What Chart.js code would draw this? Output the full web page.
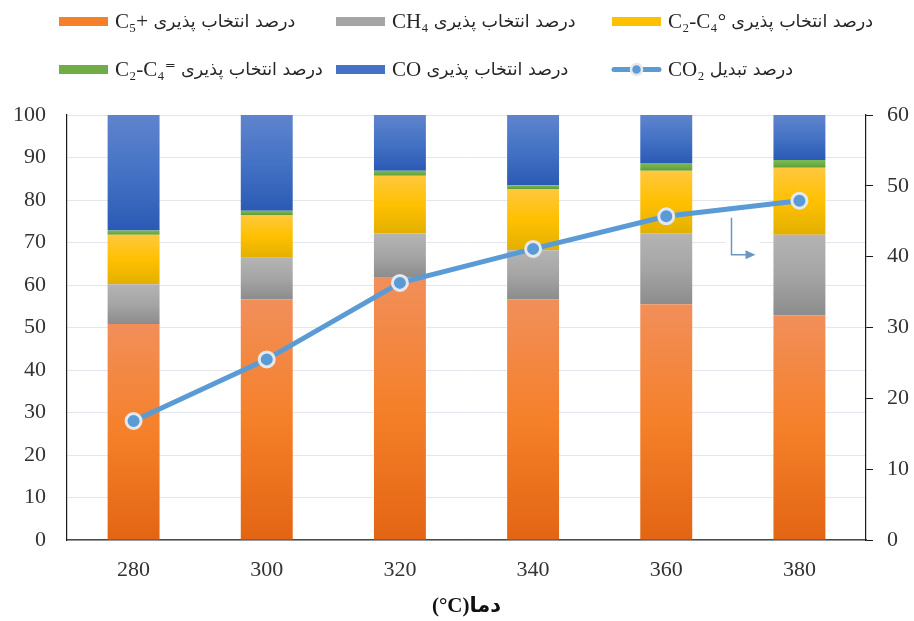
<!DOCTYPE html>
<html>
<head>
<meta charset="utf-8">
<script src="https://cdn.jsdelivr.net/npm/chart.js@4.4.1/dist/chart.umd.min.js"></script>
<style>
  html, body { margin: 0; padding: 0; background: #ffffff; }
  #wrap { width: 914px; height: 621px; }
</style>
</head>
<body>
<div id="wrap"><canvas id="chart" width="914" height="621"></canvas></div>
<script>
// Reaction temperature (°C)
const temperatures = ['280', '300', '320', '340', '360', '380'];

// Product selectivity (%), stacked to 100
const selC5plus       = [50.8, 56.6, 61.7, 56.6, 55.5, 52.9];
const selCH4          = [9.4, 9.8, 10.4, 11.6, 16.7, 18.9];
const selC2C4paraffin = [11.6, 10.1, 13.6, 14.4, 14.7, 15.8];
const selC2C4olefin   = [1.0, 1.0, 1.2, 0.9, 1.8, 1.8];
const selCO           = [27.2, 22.5, 13.1, 16.5, 11.3, 10.6];

// CO2 conversion (%), right axis
const convCO2 = [16.8, 25.5, 36.3, 41.1, 45.7, 47.9];

// Axis ranges
const leftAxisMax = 100, leftAxisStep = 10;
const rightAxisMax = 60, rightAxisStep = 10;

// Series labels
const labelC5plus   = 'C₅+ درصد انتخاب پذیری';
const labelCH4      = 'CH₄ درصد انتخاب پذیری';
const labelParaffin = 'C₂-C₄° درصد انتخاب پذیری';
const labelOlefin   = 'C₂-C₄⁼ درصد انتخاب پذیری';
const labelCO       = 'CO درصد انتخاب پذیری';
const labelCO2      = 'CO₂ درصد تبدیل';
const xAxisTitle    = '(°C)دما';

const barSeries = [selC5plus, selCH4, selC2C4paraffin, selC2C4olefin, selCO];

const FONT = '"Liberation Serif", "DejaVu Sans", serif';
const FA_FONT = '"DejaVu Sans", sans-serif';

// light -> base -> shade, top to bottom of each segment
const palette = {
  orange: ['#f18f5a', '#f5802a', '#e36513'],
  gray:   ['#b4b4b4', '#a5a5a5', '#8c8c8c'],
  yellow: ['#ffc83e', '#ffc000', '#e2b000'],
  green:  ['#7db858', '#70ad47', '#5e9c37'],
  blue:   ['#5f84cd', '#4472c4', '#2b5ab5']
};
const lineColor = '#5b9bd5';

function segmentFill(stops) {
  return (ctx) => {
    const chart = ctx.chart;
    const ys = chart.scales && chart.scales.y;
    if (ctx.type !== 'data' || !ys) return stops[1];
    const d = ctx.datasetIndex, i = ctx.dataIndex;
    let start = 0;
    for (let k = 0; k < d; k++) start += barSeries[k][i];
    const end = start + barSeries[d][i];
    const top = ys.getPixelForValue(end);
    const bottom = ys.getPixelForValue(start);
    if (!isFinite(top) || !isFinite(bottom) || top === bottom) return stops[1];
    const g = chart.ctx.createLinearGradient(0, top, 0, bottom);
    g.addColorStop(0, stops[0]);
    g.addColorStop(0.5, stops[1]);
    g.addColorStop(1, stops[2]);
    return g;
  };
}

function barDataset(label, data, stops) {
  return {
    type: 'bar',
    label: label,
    data: data,
    yAxisID: 'y',
    order: 1,
    backgroundColor: segmentFill(stops),
    swatch: stops[1],
    borderWidth: 0,
    categoryPercentage: 1.0,
    barPercentage: 0.39
  };
}

// Grid-style legend above the plot, three entries per row.
// The chemical formula is set in the serif face, the Persian words after it.
const gridLegend = {
  id: 'gridLegend',
  afterDraw(chart) {
    const ctx = chart.ctx;
    const cols = [59, 336, 612];
    const rows = [21.5, 69.5];
    const swW = 49, swH = 9, gap = 7;
    ctx.save();
    ctx.textBaseline = 'middle';
    ctx.textAlign = 'left';
    chart.data.datasets.forEach((ds, n) => {
      const x = cols[n % 3];
      const y = rows[Math.floor(n / 3)];
      if (ds.type === 'line') {
        ctx.strokeStyle = ds.borderColor;
        ctx.lineWidth = 5;
        ctx.lineCap = 'round';
        ctx.beginPath();
        ctx.moveTo(x + 2, y);
        ctx.lineTo(x + swW - 2, y);
        ctx.stroke();
        ctx.beginPath();
        ctx.arc(x + swW / 2, y, 5.5, 0, Math.PI * 2);
        ctx.fillStyle = ds.pointBackgroundColor;
        ctx.fill();
        ctx.lineWidth = 2.5;
        ctx.strokeStyle = ds.pointBorderColor;
        ctx.stroke();
      } else {
        ctx.fillStyle = ds.swatch;
        ctx.fillRect(x, y - swH / 2, swW, swH);
      }
      const cut = ds.label.indexOf(' ');
      const formula = ds.label.slice(0, cut);
      const words = ds.label.slice(cut + 1);
      ctx.fillStyle = '#262626';
      ctx.font = '21px ' + FONT;
      const tx = x + swW + gap;
      ctx.fillText(formula, tx, y + 1);
      const fw = ctx.measureText(formula + ' ').width;
      ctx.font = '17.5px ' + FA_FONT;
      ctx.fillText(words, tx + fw, y + 1);
    });
    ctx.restore();
  }
};

// Small elbow arrow pointing the conversion line to the right-hand axis
const axisPointer = {
  id: 'axisPointer',
  afterDatasetsDraw(chart) {
    const xs = chart.scales.x, ys = chart.scales.y;
    const ctx = chart.ctx;
    const x0 = xs.getPixelForValue(4.49);
    const x1 = xs.getPixelForValue(4.67);
    const yTop = ys.getPixelForValue(75.8);
    const yBot = ys.getPixelForValue(67.1);
    ctx.save();
    ctx.fillStyle = '#ffffff';
    ctx.fillRect(x0 - 6, yTop - 2, (x1 - x0) + 10, (yBot - yTop) + 8);
    ctx.strokeStyle = '#6a98c2';
    ctx.fillStyle = '#6a98c2';
    ctx.lineWidth = 1.5;
    ctx.beginPath();
    ctx.moveTo(x0, yTop);
    ctx.lineTo(x0, yBot);
    ctx.lineTo(x1 - 8, yBot);
    ctx.stroke();
    ctx.beginPath();
    ctx.moveTo(x1, yBot);
    ctx.lineTo(x1 - 10, yBot - 4.5);
    ctx.lineTo(x1 - 10, yBot + 4.5);
    ctx.closePath();
    ctx.fill();
    ctx.restore();
  }
};

new Chart(document.getElementById('chart'), {
  data: {
    labels: temperatures,
    datasets: [
      barDataset(labelC5plus, selC5plus, palette.orange),
      barDataset(labelCH4, selCH4, palette.gray),
      barDataset(labelParaffin, selC2C4paraffin, palette.yellow),
      barDataset(labelOlefin, selC2C4olefin, palette.green),
      barDataset(labelCO, selCO, palette.blue),
      {
        type: 'line',
        label: labelCO2,
        data: convCO2,
        yAxisID: 'y1',
        order: 0,
        borderColor: lineColor,
        borderWidth: 5,
        pointRadius: 7.5,
        pointBorderWidth: 3,
        pointBackgroundColor: lineColor,
        pointBorderColor: '#e4e8ec',
        tension: 0,
        fill: false
      }
    ]
  },
  options: {
    responsive: false,
    animation: false,
    devicePixelRatio: 1,
    layout: { padding: { top: 115, left: 0, right: 0, bottom: 0 } },
    plugins: {
      legend: { display: false },
      tooltip: { enabled: false },
      title: { display: false }
    },
    scales: {
      x: {
        stacked: true,
        offset: true,
        grid: { display: false, drawTicks: false },
        border: { display: true, color: '#4a4a4a', width: 1.5 },
        ticks: { color: '#333333', font: { family: FONT, size: 22 }, padding: 17, maxRotation: 0 },
        title: {
          display: true,
          text: xAxisTitle,
          color: '#111111',
          font: { family: FONT, size: 21, weight: 'bold' },
          padding: { top: 0, bottom: 2 }
        },
        afterFit(s) { s.height = 81; }
      },
      y: {
        stacked: true,
        position: 'left',
        min: 0,
        max: leftAxisMax,
        grid: { color: '#e3e6ec', lineWidth: 1, drawTicks: false },
        border: { display: true, color: '#1a1a1a', width: 1.2 },
        ticks: { stepSize: leftAxisStep, color: '#333333', font: { family: FONT, size: 22 }, padding: 21 },
        afterFit(s) { s.width = 67; }
      },
      y1: {
        position: 'right',
        min: 0,
        max: rightAxisMax,
        grid: { drawOnChartArea: false, drawTicks: true, tickLength: 7, color: '#1a1a1a', tickColor: '#1a1a1a' },
        border: { display: true, color: '#1a1a1a', width: 1.2 },
        ticks: { stepSize: rightAxisStep, color: '#333333', font: { family: FONT, size: 22 }, padding: 14 },
        afterFit(s) { s.width = 48; }
      }
    }
  },
  plugins: [axisPointer, gridLegend]
});
</script>
</body>
</html>
